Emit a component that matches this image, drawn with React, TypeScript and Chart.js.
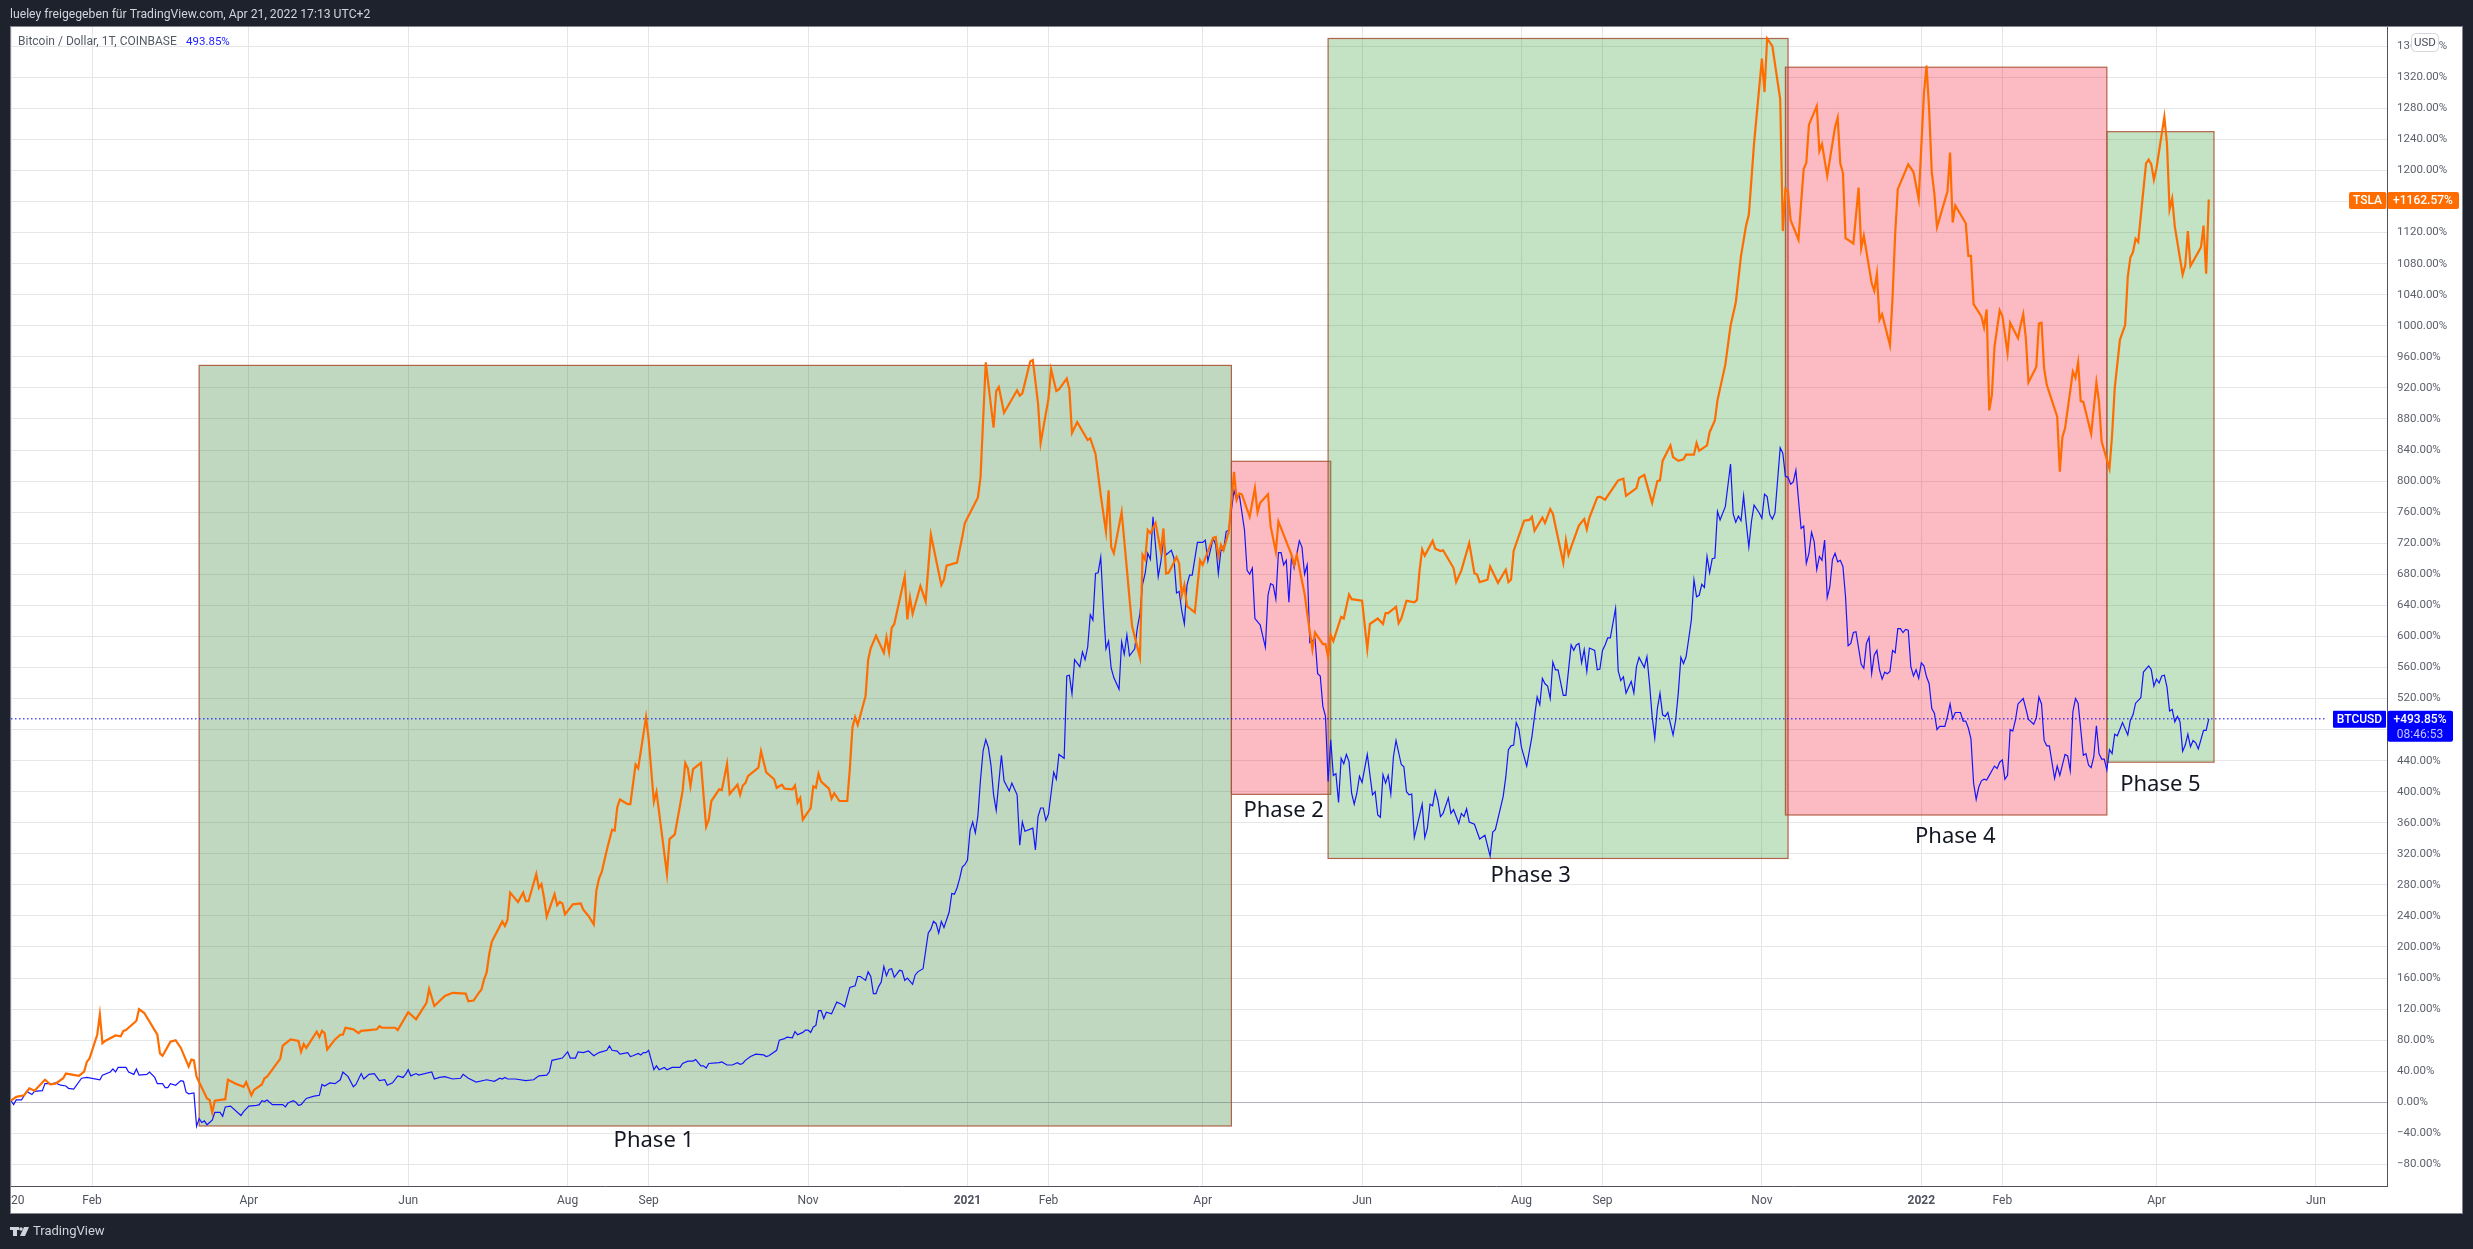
import React, { useEffect, useRef } from "react";
import { Chart, registerables } from "chart.js";

Chart.register(...registerables);

type P = [number, number];

// Day index counted from 1 Jan 2020, value in percent since the start of the comparison
const tslaEarly: P[] = [[0,2],[2,7],[5,9],[7,18],[9,15],[13,29],[15,23],[17,24],[20,31],[21,37],[26,34],[28,39.5],[29,52],[30,56],[33,87],[34,113],[35,76],[36,79],[40,86],[42,85],[43,92],[44,93],[48,105],[49,120],[51,115],[56,87],[57,63],[58,60],[61,78],[63,80],[65,70],[68,46],[69,55],[70,54],[71,33],[75,5],[76,3],[77,-13],[78,2],[82,4],[83,29],[86,24],[89,20],[90,26],[92,9],[93,16],[96,23],[97,31],[98,33],[103,56],[104,73],[107,81],[110,79],[111,65],[112,75],[113,70],[117,91],[118,84],[119,92],[120,89],[121,68],[124,81],[126,87],[127,87],[128,96],[131,94],[133,89],[134,92],[137,93],[140,94],[141,98],[142,96],[147,96],[148,93],[152,116],[155,107],[159,128],[160,146],[162,124],[166,137],[169,141],[174,140],[175,130],[177,131],[179,141]];
const tslaMid2020: P[] = [[180,145],[181,158],[182,167],[183,191],[184,207],[188,233],[189,227],[190,235],[191,270],[194,258],[196,270],[197,259],[198,259],[201,294],[202,276],[203,281],[204,263],[205,239],[208,268],[209,254],[210,258],[211,256],[212,242],[215,255],[218,256],[219,248],[221,240],[223,229],[224,273],[225,288],[226,296],[228,325],[230,351],[231,350],[232,380],[233,390],[236,384],[237,384],[239,435],[240,430],[243,496],[244,468],[246,387],[247,400],[251,294],[252,339],[254,345],[257,401],[258,437],[259,430],[260,407],[261,429],[264,437],[266,355],[267,364],[268,388],[271,403],[272,402],[274,436],[275,397],[278,409],[279,396],[280,408],[281,411],[282,420],[286,431],[287,452],[289,425],[292,416],[293,405],[295,409],[296,404],[299,403],[300,408],[301,386],[302,392],[303,364],[306,379],[307,407],[308,405],[309,423],[310,413],[313,404],[314,391],[315,398],[317,388],[320,388]];
const tslaRise: P[] = [[321,430],[322,483],[323,496],[324,486],[327,523],[328,570],[329,585],[331,601],[334,579],[335,599],[336,580],[337,611],[338,616],[342,677],[343,622],[344,650],[345,629],[348,665],[350,645],[352,731],[356,666],[357,673],[358,691],[362,695],[364,728],[365,746],[370,779],[371,805],[373,953],[376,869],[377,916],[378,921],[380,888],[385,917],[386,910],[387,913],[390,954],[391,956],[393,900],[394,849],[397,906],[398,944],[400,916],[401,918],[404,932],[405,918],[406,862],[408,876],[412,853],[413,855],[415,835],[417,782],[419,735],[420,788],[421,715],[422,707],[425,760],[427,687],[428,649],[429,613],[432,573],[433,705],[434,699],[435,737]];
const tslaSpring2021: P[] = [[436,733],[438,746],[440,709],[441,739],[442,681],[443,682],[446,702],[447,694],[448,653],[449,666],[450,639],[453,631],[455,698],[456,692],[460,727],[461,728],[462,703],[463,718],[464,711],[466,735],[468,812],[469,776],[470,784],[471,783],[474,754],[476,791],[477,760],[478,772],[481,783],[482,742],[484,709],[485,748],[490,705],[491,692],[492,705],[495,655],[496,630],[498,583],[499,605],[502,590],[503,590],[504,574],[505,602],[506,594],[509,625],[510,623],[512,654],[513,648],[517,646],[519,584],[520,616],[523,623],[525,616],[526,630],[527,630],[530,638],[531,617],[532,623],[534,646],[537,644],[538,647],[539,685],[540,712],[541,704],[544,723],[545,713],[547,710],[548,711],[552,688],[553,670],[555,685],[558,720],[560,681],[561,680],[562,670],[565,673],[566,690],[569,669],[572,686],[573,670],[574,673],[575,710],[579,749],[581,750],[582,754],[583,736],[586,753],[587,746],[589,764],[590,758],[594,695],[595,724],[596,705],[597,715],[600,743],[602,751],[603,738],[604,753],[607,779],[608,780],[610,776],[615,801],[617,803],[618,781],[622,791],[623,804],[625,808],[628,772],[630,800],[631,801],[632,826],[635,846],[636,831],[638,826],[640,828],[641,834],[644,834],[645,849],[646,839],[649,846],[650,863],[652,878],[653,904],[656,950],[658,1000],[660,1030],[662,1090],[664,1130]];
const tslaPeak: P[] = [[665,1143],[667,1235],[670,1344],[671,1301],[672,1370],[674,1360],[677,1292],[678,1122],[679,1176],[680,1173],[681,1136],[684,1111],[685,1158],[686,1202],[687,1210],[688,1259],[691,1283],[692,1225],[693,1234],[695,1193],[698,1256],[699,1268],[700,1209],[701,1197],[702,1113],[705,1106],[707,1178],[708,1100],[709,1116],[712,1055],[713,1045],[714,1067],[715,1008],[716,1015],[719,975],[720,1037],[721,1119],[722,1176],[726,1208],[728,1198],[730,1163],[732,1299],[733,1335],[734,1278],[735,1198],[736,1170],[737,1127],[741,1173],[742,1223],[743,1133],[744,1155],[748,1132],[749,1090],[750,1090],[751,1028],[754,1012],[755,998],[756,1021],[757,891],[758,911],[759,973],[761,1020],[762,1013],[764,965],[765,1004],[768,984],[769,1001],[770,1015],[771,984],[772,927],[775,947],[776,1003],[777,1004],[778,945],[779,924],[783,883],[784,812],[785,857],[786,868],[789,941],[790,933],[791,953],[792,903],[793,902],[796,861],[798,927],[799,902],[800,851],[803,816]];
const tslaLate: P[] = [[804,859],[805,919],[807,982],[809,1001],[810,1063],[811,1088],[812,1095],[813,1112],[814,1108],[817,1209],[818,1214],[819,1208],[820,1188],[821,1203],[824,1269],[825,1235],[826,1150],[827,1164],[828,1128],[831,1066],[832,1078],[833,1122],[834,1077],[838,1101],[839,1129],[840,1067],[841,1162.57]];

const btcEarly: P[] = [[0,2],[1,-3],[2,3],[4,3],[6,14],[8,10],[9,14],[12,15],[13,24],[16,24],[17,25],[19,22],[21,21],[22,18],[24,17],[27,31],[29,32],[34,29],[35,35],[38,39],[39,43],[40,39],[41,45],[44,45],[45,39],[47,36],[48,43],[49,35],[52,36],[53,39],[55,32],[56,24],[58,24],[59,19],[60,19],[61,24],[63,22],[65,28],[66,27],[67,13],[68,11],[70,12],[71,-31],[72,-21],[73,-26],[74,-24],[75,-29],[77,-23],[78,-13],[80,-13],[81,-18],[82,-6],[84,-5],[88,-17],[89,-12],[91,-5],[94,-4],[95,-3],[96,2],[97,1],[98,3],[100,-3],[104,-3],[105,-6],[106,-1],[108,2],[109,0],[110,-4],[111,-3],[113,5],[116,8],[118,9],[119,23],[120,21],[122,25],[124,24]];
const btcFlat: P[] = [[126,29],[127,39],[129,33],[131,20],[132,23],[134,37],[135,30],[137,36],[139,37],[141,28],[143,29],[144,22],[146,25],[148,34],[150,32],[151,36],[152,42],[153,34],[155,37],[156,35],[161,39],[162,30],[164,32],[166,33],[169,30],[172,31],[173,36],[175,31],[178,26],[182,29],[185,27],[187,31],[188,30],[189,32],[190,30],[193,30],[197,28],[200,29],[202,34],[205,35],[206,39],[207,54],[211,57],[213,65],[214,57],[216,57],[217,65],[219,64],[221,66],[223,60],[225,64],[228,67],[229,72.5],[230,67],[232,66],[233,62],[236,64],[237,59],[238,60],[240,63]];
const btcAutumn2020: P[] = [[241,61],[242,64],[243,64],[244,67],[246,42],[247,47],[248,42],[250,45],[251,42],[253,45],[256,45],[257,50],[259,53],[261,53],[262,55],[264,47],[265,47],[266,44],[267,50],[271,51],[272,52],[274,48],[276,48],[278,51],[279,49],[280,50],[281,54],[283,59],[285,62],[288,61],[289,59],[290,60],[293,67],[294,80],[296,82],[297,84],[299,83],[300,91],[301,87],[303,90],[304,93],[305,93],[306,90],[307,97],[308,99],[309,118],[310,118],[311,108],[312,116],[314,114],[316,129],[318,126],[319,123],[321,148],[323,150],[324,162],[325,162],[327,157],[328,168],[329,162],[330,140],[331,140],[332,149],[333,155],[334,175],[335,163],[336,171],[337,172],[338,161],[340,170],[341,169],[342,157],[343,160],[345,152],[346,164],[347,168],[349,172],[351,218],[352,223],[353,233],[354,230],[355,218],[356,233],[357,225],[359,245],[360,269],[361,268],[362,276]];
const btcRally: P[] = [[363,288],[364,303],[365,306],[366,312],[367,350],[368,361],[369,347],[370,369],[371,416],[372,453],[373,467],[374,457],[375,434],[376,396],[377,376],[378,412],[379,447],[380,414],[382,401],[383,411],[385,396],[386,331],[387,361],[388,349],[391,353],[392,325],[393,368],[394,379],[395,379],[396,363],[397,371],[399,425],[400,416],[401,448],[403,443],[404,549],[405,550],[406,526],[407,570],[409,561],[410,580],[411,570],[412,586],[413,628],[414,621],[415,681],[416,682],[417,702],[418,638],[419,584],[420,594],[421,559],[422,547],[424,532],[425,593],[426,577],[427,602],[428,575],[430,584],[431,611],[432,629],[433,667],[434,681],[435,707],[436,699],[437,754],[439,677],[440,696],[441,724],[442,705],[444,711],[445,701],[446,656],[447,658],[448,633],[449,616],[450,666],[451,679],[452,679],[454,721],[456,721],[457,724],[458,697],[460,726],[461,718],[462,681],[463,711],[464,711],[465,735]];
const btcCrash: P[] = [[466,737],[468,788],[469,776],[470,783],[472,737],[473,685],[474,680],[475,688],[476,623],[478,615],[480,586],[481,653],[482,668],[483,666],[484,648],[485,708],[486,708],[487,692],[488,698],[489,644],[490,703],[491,688],[493,723],[494,715],[495,680],[496,692],[497,592],[499,597],[500,552],[501,549],[502,510],[503,497],[504,413],[505,467],[506,421],[507,423],[508,386],[509,443],[510,436],[511,448],[512,439],[513,398],[514,384],[515,398],[516,420],[517,412],[519,448],[521,396],[522,400],[523,370],[524,367],[525,422],[526,411],[527,421],[528,397],[529,445],[530,466],[532,435],[533,432],[534,400],[535,396],[536,397],[537,341],[538,355],[540,384],[541,341],[542,353],[543,384],[544,382],[545,401],[546,389],[547,368],[548,372],[550,392],[551,372],[552,377],[554,359],[555,372],[556,368],[557,378],[558,361],[560,358],[562,339],[564,344],[566,317]];
const btcRecovery: P[] = [[567,348],[568,351],[571,394],[572,419],[573,454],[574,459],[575,460],[576,489],[577,481],[578,457],[580,433],[582,471],[583,497],[584,522],[585,512],[586,546],[587,539],[588,536],[589,520],[590,567],[591,557],[592,557],[594,524],[595,524],[597,589],[598,582],[599,589],[600,591],[601,566],[602,583],[603,555],[604,585],[606,582],[607,557],[608,558],[609,582],[610,589],[611,598],[612,598],[614,636],[615,556],[616,543],[617,548],[618,527],[620,542],[621,527],[622,561],[623,573],[625,560],[626,574],[627,539],[628,497],[629,469],[630,507],[631,527],[632,499],[633,497],[634,502],[636,473],[637,492],[638,527],[639,573],[640,565],[641,574],[642,597],[643,621],[644,673],[645,651],[646,653],[647,667],[648,663],[649,703],[650,682],[651,700],[652,701],[653,761],[654,750],[656,767],[658,822],[659,758],[660,747],[661,755],[662,749],[663,781],[664,746],[665,715],[666,748],[667,769],[669,759],[670,752],[671,783],[672,780],[673,757],[674,751],[675,759],[677,843],[678,836],[679,806],[680,805],[681,796],[682,799],[683,814],[684,776],[685,739],[686,742],[687,694],[688,707],[689,734],[690,722],[691,686],[692,703],[693,698],[694,724],[695,650],[696,664],[697,699],[698,707],[699,696],[700,698]];
const btcDecline: P[] = [[701,690],[702,651],[703,588],[704,591],[705,605],[706,606],[708,564],[709,559],[710,591],[711,599],[712,552],[713,576],[714,582],[715,557],[716,545],[717,554],[718,552],[719,555],[720,582],[721,579],[722,610],[723,610],[724,605],[725,609],[726,608],[727,561],[728,549],[729,557],[730,546],[731,566],[732,562],[733,548],[734,539],[735,507],[736,501],[737,480],[738,484],[740,484],[741,497],[742,513],[743,494],[744,502],[746,502],[747,491],[748,491],[749,482],[750,468],[751,411],[752,390],[753,406],[754,414],[755,416],[756,415],[757,421],[759,433],[760,430],[761,438],[762,441],[763,416],[764,421],[765,480],[766,478],[767,492],[768,513],[770,520],[771,507],[772,493],[774,487],[775,495],[776,522],[777,513],[778,466],[779,459],[780,459],[782,417],[783,433],[784,421],[786,448],[787,446],[788,427],[789,503],[790,520],[791,514],[793,447],[794,449],[795,434],[796,431],[797,445],[798,485],[799,449],[800,442],[801,442],[802,428]];
const btcLate: P[] = [[803,454],[804,449],[805,474],[806,472],[808,489],[810,473],[811,492],[812,499],[813,514],[815,521],[816,554],[818,562],[819,557],[820,536],[821,545],[822,540],[823,549],[824,550],[825,535],[826,504],[827,506],[828,490],[829,497],[830,490],[831,452],[832,460],[833,474],[834,458],[835,466],[836,463],[837,455],[839,479],[840,479],[841,493.85]];

const xTickDays = [0, 31, 91, 152, 213, 244, 305, 366, 397, 456, 517, 578, 609, 670, 731, 762, 821, 882];
const xTickLabels = ["2020", "Feb", "Apr", "Jun", "Aug", "Sep", "Nov", "2021", "Feb", "Apr", "Jun", "Aug", "Sep", "Nov", "2022", "Feb", "Apr", "Jun"];
const yTickValues = [-80, -40, 0, 40, 80, 120, 160, 200, 240, 280, 320, 360, 400, 440, 480, 520, 560, 600, 640, 680, 720, 760, 800, 840, 880, 920, 960, 1000, 1040, 1080, 1120, 1160, 1200, 1240, 1280, 1320, 1360];

const phaseNames = ["Phase 1", "Phase 2", "Phase 3", "Phase 4", "Phase 5"];
const phaseStart = [72, 467, 504, 679, 802];
const phaseEnd = [467, 505, 680, 802, 843];
const phaseHigh = [949, 825.5, 1370, 1333, 1250];
const phaseLow = [-30.5, 396.6, 314, 370, 438];
const phaseKind = ["long", "short", "bull", "short", "bull"];
const phaseLabelDay = [246, 487, 581.5, 744, 822.5];
const phaseLabelValue = [-49, 376, 292, 342, 409.5];

const lastBtc = 493.85;
const lastTsla = 1162.57;

const DARK = "#1e222d";
const FONT = "Roboto";
const fills: Record<string, string> = {
  long: "rgba(66,140,68,0.34)",
  bull: "rgba(58,158,58,0.30)",
  short: "rgba(245,20,48,0.29)",
};

const frame = {
  id: "frame",
  beforeDraw(chart: any) {
    const c = chart.ctx;
    c.save();
    c.fillStyle = DARK;
    c.fillRect(0, 0, 2473, 1249);
    c.fillStyle = "#ffffff";
    c.fillRect(10, 27, 2452, 1186);
    c.restore();
  },
  beforeDatasetsDraw(chart: any) {
    const c = chart.ctx;
    const x = chart.scales.x;
    const y = chart.scales.y;
    c.save();
    phaseNames.forEach((_, i) => {
      const l = x.getPixelForValue(phaseStart[i]);
      const r = x.getPixelForValue(phaseEnd[i]);
      const t = y.getPixelForValue(phaseHigh[i]);
      const b = y.getPixelForValue(phaseLow[i]);
      c.fillStyle = fills[phaseKind[i]];
      c.fillRect(l, t, r - l, b - t);
      c.strokeStyle = "rgba(172,84,56,0.9)";
      c.lineWidth = 1.2;
      c.strokeRect(l, t, r - l, b - t);
    });
    c.restore();
  },
  afterDraw(chart: any) {
    const c = chart.ctx;
    const x = chart.scales.x;
    const y = chart.scales.y;
    c.save();
    // left clip of the time axis and panel edge
    c.fillStyle = DARK;
    c.fillRect(0, 1187, 10, 26);
    c.fillStyle = "#83868f";
    c.fillRect(10, 27, 1, 1186);
    c.fillRect(2462, 27, 1, 1186);
    c.fillRect(10, 26, 2453, 1);
    c.fillRect(10, 1213, 2453, 1);

    c.textBaseline = "middle";
    // phase captions
    c.fillStyle = "#131722";
    c.font = "22px 'Noto Sans'";
    c.textAlign = "center";
    phaseNames.forEach((n, i) => {
      c.fillText(n, x.getPixelForValue(phaseLabelDay[i]), y.getPixelForValue(phaseLabelValue[i]));
    });

    // header and footer
    c.textAlign = "left";
    c.fillStyle = "#d1d4dc";
    c.font = `12.2px ${FONT}`;
    c.fillText("lueley freigegeben für TradingView.com, Apr 21, 2022 17:13 UTC+2", 10, 14.5);
    c.font = `13px ${FONT}`;
    c.fillText("TradingView", 33, 1232);
    c.fillRect(10, 1227, 9, 3);
    c.fillRect(13, 1227, 4, 9);
    c.beginPath();
    c.arc(21, 1229, 1.8, 0, Math.PI * 2);
    c.fill();
    c.beginPath();
    c.moveTo(24, 1227);
    c.lineTo(29, 1227);
    c.lineTo(25, 1236);
    c.lineTo(20, 1236);
    c.closePath();
    c.fill();

    // legend line
    c.font = `12px ${FONT}`;
    c.fillStyle = "#555a66";
    c.fillText("Bitcoin / Dollar, 1T, COINBASE", 18, 42);
    c.fillStyle = "#2020ff";
    c.font = `11.5px ${FONT}`;
    c.fillText("493.85%", 186, 42);

    // USD pill
    c.fillStyle = "#ffffff";
    c.strokeStyle = "#d6d8de";
    c.lineWidth = 1;
    c.beginPath();
    c.roundRect(2411.5, 33.5, 27, 18, 4);
    c.fill();
    c.stroke();
    c.fillStyle = "#4a4e59";
    c.textAlign = "center";
    c.font = `11.5px ${FONT}`;
    c.fillText("USD", 2425, 43);

    // last value tags
    const tagT = y.getPixelForValue(lastTsla);
    const tagB = y.getPixelForValue(lastBtc);
    c.fillStyle = "#ff6d00";
    c.beginPath();
    c.roundRect(2349, tagT - 7.5, 37.5, 17, 2);
    c.fill();
    c.beginPath();
    c.roundRect(2387.5, tagT - 7.5, 71.5, 17, 2);
    c.fill();
    c.fillStyle = "#0000ff";
    c.beginPath();
    c.roundRect(2333, tagB - 8, 53, 17, 1);
    c.fill();
    c.beginPath();
    c.roundRect(2387.5, tagB - 8, 65.5, 31, 2);
    c.fill();
    c.fillStyle = "#ffffff";
    c.font = `500 12px ${FONT}`;
    c.textAlign = "center";
    c.fillText("TSLA", 2367.5, tagT + 1.5);
    c.fillText("+" + lastTsla + "%", 2423, tagT + 1.5);
    c.fillText("BTCUSD", 2359.5, tagB + 1);
    c.fillText("+" + lastBtc + "%", 2420, tagB + 1);
    c.fillStyle = "#c4c4ff";
    c.font = `12px ${FONT}`;
    c.fillText("08:46:53", 2420, tagB + 16);
    c.restore();
  },
};

export default function App() {
  const ref = useRef<HTMLCanvasElement | null>(null);

  useEffect(() => {
    document.body.style.margin = "0";
    document.body.style.background = DARK;
    const toPts = (a: P[]) => a.map(([x, y]) => ({ x, y }));
    const tsla = [...tslaEarly, ...tslaMid2020, ...tslaRise, ...tslaSpring2021, ...tslaPeak, ...tslaLate];
    const btc = [...btcEarly, ...btcFlat, ...btcAutumn2020, ...btcRally, ...btcCrash, ...btcRecovery, ...btcDecline, ...btcLate];
    const chart = new Chart(ref.current as HTMLCanvasElement, {
      type: "line",
      data: {
        datasets: [
          { label: "TSLA", data: toPts(tsla), borderColor: "#ff6d00", borderWidth: 2.2, pointRadius: 0, tension: 0, order: 1 },
          { label: "BTCUSD", data: toPts(btc), borderColor: "#1414ff", borderWidth: 1.2, pointRadius: 0, tension: 0, order: 2 },
          {
            label: "BTCUSD last",
            data: [{ x: 0, y: lastBtc }, { x: 885.5, y: lastBtc }],
            borderColor: "#0000ff",
            borderWidth: 1,
            borderDash: [1.5, 2.5],
            pointRadius: 0,
            order: 3,
          },
        ],
      },
      options: {
        animation: false,
        responsive: false,
        devicePixelRatio: 1,
        parsing: false,
        normalized: true,
        layout: { padding: { left: 11, right: 11, top: 27, bottom: 36 } },
        plugins: { legend: { display: false }, tooltip: { enabled: false } },
        scales: {
          x: {
            type: "linear",
            min: 0,
            max: 909.2,
            afterBuildTicks: (s: any) => {
              s.ticks = xTickDays.map((value) => ({ value }));
            },
            afterFit: (s: any) => {
              s.height = 27;
              s.paddingLeft = 0;
              s.paddingRight = 0;
            },
            grid: { color: "#e6e6e6", lineWidth: 1, drawTicks: false },
            border: { display: true, color: "#50535e", width: 1 },
            ticks: {
              autoSkip: false,
              maxRotation: 0,
              minRotation: 0,
              padding: 8,
              font: (ctx: any) => {
                const i = xTickDays.indexOf(ctx.tick?.value);
                const bold = i >= 0 && /^20/.test(xTickLabels[i]) && i > 0;
                return { family: FONT, size: 12, weight: bold ? "bold" : "normal" };
              },
              color: "#4f535e",
              callback: (v: any) => {
                const i = xTickDays.indexOf(Number(v));
                return i >= 0 ? xTickLabels[i] : "";
              },
            },
          },
          y: {
            type: "linear",
            position: "right",
            min: -107.8,
            max: 1384.8,
            afterBuildTicks: (s: any) => {
              s.ticks = yTickValues.map((value) => ({ value }));
            },
            afterFit: (s: any) => {
              s.width = 75;
            },
            grid: {
              color: (ctx: any) => (ctx.tick?.value === 0 ? "#b2b3c2" : "#e6e6e6"),
              lineWidth: 1,
              drawTicks: false,
            },
            border: { display: true, color: "#50535e", width: 1 },
            ticks: {
              autoSkip: false,
              padding: 10,
              font: { family: FONT, size: 11.5 },
              color: "#5d616b",
              callback: (v: any) => {
                const n = Number(v);
                return n < 0 ? `\u2212${Math.abs(n)}.00%` : `${n}.00%`;
              },
            },
          },
        },
      },
      plugins: [frame],
    } as any);
    return () => chart.destroy();
  }, []);

  return (
    <div style={{ width: 2473, height: 1249, background: DARK, overflow: "hidden" }}>
      <canvas ref={ref} width={2473} height={1249} style={{ display: "block", width: 2473, height: 1249 }} />
    </div>
  );
}
